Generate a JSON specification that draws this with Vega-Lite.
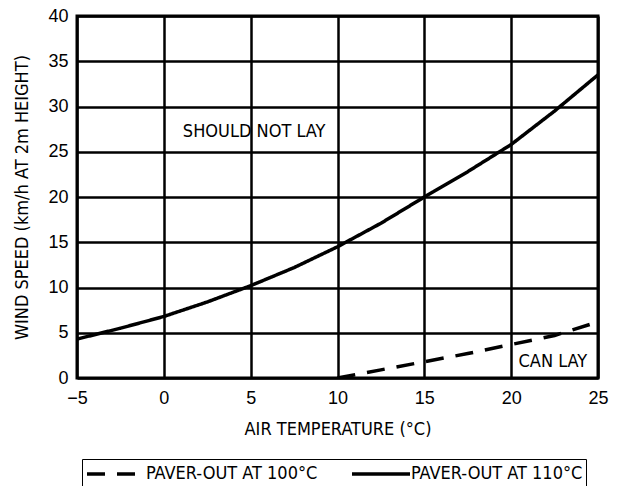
{
  "$schema": "https://vega.github.io/schema/vega-lite/v6.json",
  "autosize": {"type": "none"},
  "width": 521,
  "height": 362,
  "padding": {"left": 77, "top": 16, "right": 19, "bottom": 108},
  "background": "white",
  "config": {
    "view": {"stroke": "black", "strokeWidth": 3},
    "font": "DejaVu Sans Condensed, Liberation Sans"
  },
  "layer": [
    {
      "data": {"values": [
        {"temp": -5, "wind": 4.3, "series": "PAVER-OUT AT 110°C"},
        {"temp": -2.5, "wind": 5.5, "series": "PAVER-OUT AT 110°C"},
        {"temp": 0, "wind": 6.8, "series": "PAVER-OUT AT 110°C"},
        {"temp": 2.5, "wind": 8.4, "series": "PAVER-OUT AT 110°C"},
        {"temp": 5, "wind": 10.2, "series": "PAVER-OUT AT 110°C"},
        {"temp": 7.5, "wind": 12.2, "series": "PAVER-OUT AT 110°C"},
        {"temp": 10, "wind": 14.5, "series": "PAVER-OUT AT 110°C"},
        {"temp": 12.5, "wind": 17.1, "series": "PAVER-OUT AT 110°C"},
        {"temp": 15, "wind": 20.0, "series": "PAVER-OUT AT 110°C"},
        {"temp": 17.5, "wind": 22.8, "series": "PAVER-OUT AT 110°C"},
        {"temp": 20, "wind": 25.8, "series": "PAVER-OUT AT 110°C"},
        {"temp": 22.5, "wind": 29.5, "series": "PAVER-OUT AT 110°C"},
        {"temp": 25, "wind": 33.5, "series": "PAVER-OUT AT 110°C"},
        {"temp": 10, "wind": 0, "series": "PAVER-OUT AT 100°C"},
        {"temp": 12.5, "wind": 0.9, "series": "PAVER-OUT AT 100°C"},
        {"temp": 15, "wind": 1.8, "series": "PAVER-OUT AT 100°C"},
        {"temp": 17.5, "wind": 2.7, "series": "PAVER-OUT AT 100°C"},
        {"temp": 20, "wind": 3.7, "series": "PAVER-OUT AT 100°C"},
        {"temp": 22.5, "wind": 4.7, "series": "PAVER-OUT AT 100°C"},
        {"temp": 25, "wind": 6.2, "series": "PAVER-OUT AT 100°C"}
      ]},
      "mark": {"type": "line", "color": "black", "strokeWidth": 3.5, "clip": true},
      "encoding": {
        "x": {
          "field": "temp", "type": "quantitative",
          "scale": {"domain": [-5, 25], "nice": false, "zero": false},
          "axis": {
            "title": "AIR TEMPERATURE (°C)",
            "values": [-5, 0, 5, 10, 15, 20, 25],
            "grid": true, "gridColor": "black", "gridWidth": 2.5, "gridOpacity": 1,
            "domain": false, "ticks": false,
            "labelFont": "Liberation Sans", "labelFontSize": 18, "labelColor": "black",
            "labelPadding": 11, "labelFlush": false,
            "titleFont": "DejaVu Sans Condensed, Liberation Sans", "titleFontSize": 18, "titleFontWeight": "normal",
            "titleColor": "black", "titlePadding": 13
          }
        },
        "y": {
          "field": "wind", "type": "quantitative",
          "scale": {"domain": [0, 40], "nice": false},
          "axis": {
            "title": "WIND SPEED (km/h AT 2m HEIGHT)",
            "values": [0, 5, 10, 15, 20, 25, 30, 35, 40],
            "grid": true, "gridColor": "black", "gridWidth": 2.5, "gridOpacity": 1,
            "domain": false, "ticks": false,
            "labelFont": "Liberation Sans", "labelFontSize": 18, "labelColor": "black",
            "labelPadding": 9, "labelFlush": false,
            "titleFont": "DejaVu Sans Condensed, Liberation Sans", "titleFontSize": 18, "titleFontWeight": "normal",
            "titleColor": "black", "titlePadding": 16
          }
        },
        "strokeDash": {
          "field": "series", "type": "nominal",
          "scale": {
            "domain": ["PAVER-OUT AT 100°C", "PAVER-OUT AT 110°C"],
            "range": [[18, 12], [1, 0]]
          },
          "legend": {
            "title": null,
            "orient": "none",
            "legendX": 5,
            "legendY": 443,
            "direction": "horizontal",
            "symbolType": "M-1,0L4.8,0",
            "symbolSize": 400,
            "symbolStrokeWidth": 3.5,
            "symbolStrokeColor": "black",
            "symbolFillColor": "transparent",
            "labelFont": "DejaVu Sans Condensed, Liberation Sans",
            "labelFontSize": 18,
            "labelColor": "black",
            "labelOffset": 37,
            "labelLimit": 300,
            "columnPadding": 27,
            "strokeColor": "black",
            "padding": 3,
            "fillColor": "white"
          }
        }
      }
    },
    {
      "data": {"values": [
        {"temp": 5.2, "wind": 27.2, "text": "SHOULD NOT LAY"},
        {"temp": 22.4, "wind": 1.8, "text": "CAN LAY"}
      ]},
      "mark": {"type": "text", "font": "DejaVu Sans Condensed, Liberation Sans", "fontSize": 18, "color": "black", "align": "center", "baseline": "middle"},
      "encoding": {
        "x": {"field": "temp", "type": "quantitative"},
        "y": {"field": "wind", "type": "quantitative"},
        "text": {"field": "text"}
      }
    }
  ]
}
